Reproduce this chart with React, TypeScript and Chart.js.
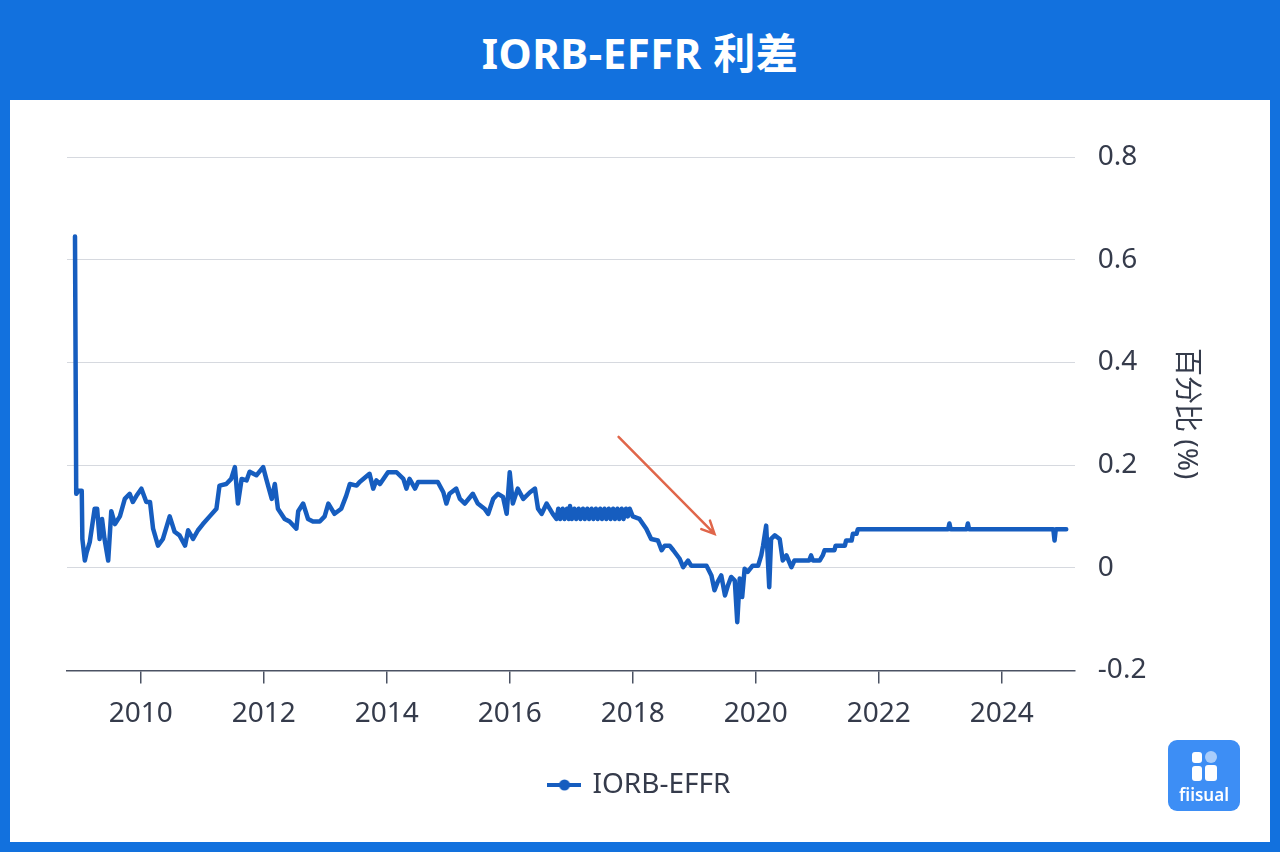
import React, { useEffect, useRef } from 'react';
import { Chart, registerables } from 'chart.js';

Chart.register(...registerables);

const chartTitle = 'IORB-EFFR 利差';
const seriesName = 'IORB-EFFR';
const yAxisTitle = '百分比 (%)';
const logoText = 'fiisual';

const years = [
  2008.93, 2008.95, 2008.99, 2009.04, 2009.05, 2009.09, 2009.12, 2009.17, 2009.25, 2009.29,
  2009.33, 2009.37, 2009.41, 2009.47, 2009.52, 2009.58, 2009.66, 2009.74, 2009.82, 2009.87,
  2009.93, 2010.01, 2010.09, 2010.15, 2010.20, 2010.28, 2010.36, 2010.47, 2010.55, 2010.63,
  2010.72, 2010.77, 2010.85, 2010.93, 2011.01, 2011.12, 2011.23, 2011.28, 2011.39, 2011.47,
  2011.53, 2011.58, 2011.64, 2011.72, 2011.77, 2011.88, 2011.99, 2012.04, 2012.13, 2012.18,
  2012.23, 2012.34, 2012.42, 2012.53, 2012.56, 2012.64, 2012.72, 2012.80, 2012.91, 2012.99,
  2013.05, 2013.15, 2013.26, 2013.34, 2013.40, 2013.51, 2013.56, 2013.72, 2013.78, 2013.83,
  2013.89, 2014.02, 2014.16, 2014.27, 2014.32, 2014.37, 2014.46, 2014.51, 2014.73, 2014.83,
  2014.92, 2014.97, 2015.02, 2015.13, 2015.19, 2015.27, 2015.40, 2015.48, 2015.59, 2015.65,
  2015.73, 2015.81, 2015.89, 2015.95, 2016.00, 2016.05, 2016.13, 2016.22, 2016.33, 2016.41,
  2016.46, 2016.52, 2016.60, 2016.70, 2016.76, 2016.79, 2016.82, 2016.86, 2016.89, 2016.93,
  2016.96, 2016.98, 2017.01, 2017.05, 2017.08, 2017.12, 2017.15, 2017.19, 2017.22, 2017.26,
  2017.29, 2017.33, 2017.36, 2017.40, 2017.43, 2017.47, 2017.50, 2017.54, 2017.57, 2017.61,
  2017.64, 2017.68, 2017.71, 2017.75, 2017.78, 2017.82, 2017.85, 2017.89, 2017.92, 2017.95,
  2018.00, 2018.11, 2018.22, 2018.30, 2018.41, 2018.47, 2018.52, 2018.60, 2018.66, 2018.76,
  2018.82, 2018.90, 2018.95, 2019.20, 2019.28, 2019.33, 2019.38, 2019.44, 2019.50, 2019.55,
  2019.60, 2019.66, 2019.70, 2019.74, 2019.78, 2019.82, 2019.87, 2019.95, 2020.04, 2020.09,
  2020.12, 2020.17, 2020.22, 2020.25, 2020.31, 2020.39, 2020.44, 2020.50, 2020.58, 2020.63,
  2020.87, 2020.90, 2020.93, 2021.04, 2021.09, 2021.12, 2021.28, 2021.30, 2021.45, 2021.47,
  2021.56, 2021.58, 2021.64, 2021.66, 2023.13, 2023.15, 2023.17, 2023.43, 2023.45, 2023.47,
  2024.84, 2024.86, 2024.88, 2025.05,
];

const spread = [
  0.645, 0.144, 0.15, 0.15, 0.056, 0.014, 0.03, 0.05, 0.115, 0.115,
  0.056, 0.095, 0.056, 0.014, 0.11, 0.085, 0.10, 0.134, 0.144, 0.128,
  0.14, 0.154, 0.128, 0.128, 0.076, 0.043, 0.056, 0.10, 0.07, 0.063,
  0.043, 0.073, 0.056, 0.073, 0.085, 0.10, 0.115, 0.16, 0.163, 0.173,
  0.196, 0.125, 0.173, 0.17, 0.187, 0.18, 0.196, 0.173, 0.134, 0.163,
  0.115, 0.095, 0.09, 0.076, 0.11, 0.125, 0.095, 0.09, 0.09, 0.10,
  0.125, 0.105, 0.115, 0.14, 0.163, 0.16, 0.167, 0.183, 0.154, 0.17,
  0.163, 0.186, 0.186, 0.173, 0.154, 0.173, 0.154, 0.167, 0.167, 0.167,
  0.147, 0.125, 0.144, 0.154, 0.134, 0.125, 0.144, 0.125, 0.115, 0.105,
  0.134, 0.144, 0.138, 0.105, 0.186, 0.125, 0.154, 0.134, 0.147, 0.154,
  0.115, 0.105, 0.125, 0.105, 0.095, 0.115, 0.095, 0.115, 0.095, 0.115,
  0.095, 0.12, 0.095, 0.115, 0.095, 0.115, 0.095, 0.115, 0.095, 0.115,
  0.095, 0.115, 0.095, 0.115, 0.095, 0.115, 0.095, 0.115, 0.095, 0.115,
  0.095, 0.115, 0.095, 0.115, 0.095, 0.115, 0.095, 0.115, 0.10, 0.115,
  0.10, 0.095, 0.076, 0.056, 0.053, 0.034, 0.043, 0.043, 0.034, 0.018,
  0.001, 0.014, 0.004, 0.004, -0.015, -0.044, -0.028, -0.015, -0.054, -0.034,
  -0.018, -0.025, -0.106, -0.021, -0.057, -0.002, -0.008, 0.004, 0.004, 0.024,
  0.043, 0.082, -0.038, 0.056, 0.063, 0.056, 0.014, 0.024, 0.001, 0.014,
  0.014, 0.024, 0.014, 0.014, 0.024, 0.034, 0.034, 0.043, 0.043, 0.053,
  0.053, 0.066, 0.066, 0.075, 0.075, 0.086, 0.075, 0.075, 0.086, 0.075,
  0.075, 0.053, 0.075, 0.075,
];

const tickYears = [2010, 2012, 2014, 2016, 2018, 2020, 2022, 2024];
const xMin = 2008.8;
const xMax = 2025.19;
const yMin = -0.2;
const yMax = 0.8;
const yStep = 0.2;

const arrowFrom = [2017.77, 0.255];
const arrowTo = [2019.33, 0.066];

const LINE_COLOR = '#165dbf';
const TEXT_COLOR = '#353b4b';
const FONT = "'Noto Sans', 'Noto Sans CJK SC', sans-serif";

function makeLegendIcon(): HTMLCanvasElement {
  const c = document.createElement('canvas');
  c.width = 34;
  c.height = 14;
  const g = c.getContext('2d')!;
  g.strokeStyle = LINE_COLOR;
  g.lineWidth = 4;
  g.beginPath();
  g.moveTo(0, 7);
  g.lineTo(34, 7);
  g.stroke();
  g.fillStyle = LINE_COLOR;
  g.beginPath();
  g.arc(17, 7, 5.5, 0, Math.PI * 2);
  g.fill();
  return c;
}

const arrowPlugin = {
  id: 'arrowAnnotation',
  afterDatasetsDraw(chart: any) {
    const { ctx, scales } = chart;
    const x1 = scales.x.getPixelForValue(arrowFrom[0]);
    const y1 = scales.y.getPixelForValue(arrowFrom[1]);
    const x2 = scales.x.getPixelForValue(arrowTo[0]);
    const y2 = scales.y.getPixelForValue(arrowTo[1]);
    const ang = Math.atan2(y2 - y1, x2 - x1);
    const head = 14;
    ctx.save();
    ctx.strokeStyle = '#e0664a';
    ctx.lineWidth = 2.5;
    ctx.lineCap = 'round';
    ctx.beginPath();
    ctx.moveTo(x1, y1);
    ctx.lineTo(x2, y2);
    ctx.moveTo(x2 - head * Math.cos(ang - 0.45), y2 - head * Math.sin(ang - 0.45));
    ctx.lineTo(x2, y2);
    ctx.lineTo(x2 - head * Math.cos(ang + 0.45), y2 - head * Math.sin(ang + 0.45));
    ctx.stroke();
    ctx.restore();
  },
};

function LineChart() {
  const ref = useRef<HTMLCanvasElement | null>(null);
  useEffect(() => {
    if (!ref.current) return;
    const icon = makeLegendIcon();
    const chart = new Chart(ref.current, {
      type: 'line',
      data: {
        datasets: [
          {
            label: seriesName,
            data: years.map((x, i) => ({ x, y: spread[i] })),
            borderColor: LINE_COLOR,
            backgroundColor: LINE_COLOR,
            borderWidth: 4.5,
            pointRadius: 0,
            tension: 0,
            borderJoinStyle: 'round',
            borderCapStyle: 'round',
          },
        ],
      },
      plugins: [arrowPlugin],
      options: {
        animation: false,
        responsive: false,
        layout: { padding: { left: 57, top: 57, right: 56, bottom: 33 } },
        plugins: {
          tooltip: { enabled: false },
          legend: {
            position: 'bottom',
            labels: {
              usePointStyle: true,
              pointStyleWidth: 28,
              color: TEXT_COLOR,
              font: { family: FONT, size: 28 },
              padding: 26,
              generateLabels: (c: any) => {
                const items = Chart.defaults.plugins.legend.labels.generateLabels(c);
                items.forEach((it: any) => {
                  it.pointStyle = icon;
                });
                return items;
              },
            },
          },
        },
        scales: {
          x: {
            type: 'linear',
            min: xMin,
            max: xMax,
            afterBuildTicks: (axis: any) => {
              axis.ticks = tickYears.map((v) => ({ value: v }));
            },
            grid: {
              display: true,
              drawOnChartArea: false,
              drawTicks: true,
              tickLength: 13,
              color: '#4b5263',
              lineWidth: 1.5,
            },
            border: { display: true, color: '#4b5263', width: 1.5 },
            ticks: {
              color: TEXT_COLOR,
              font: { family: FONT, size: 28 },
              padding: 14,
              maxRotation: 0,
              callback: (v: any) => String(v),
            },
          },
          y: {
            type: 'linear',
            position: 'right',
            min: yMin,
            max: yMax,
            grid: {
              color: '#d6d9df',
              lineWidth: 1,
              drawTicks: false,
            },
            border: { display: false },
            ticks: {
              stepSize: yStep,
              color: TEXT_COLOR,
              font: { family: FONT, size: 28 },
              padding: 23,
              callback: (v: any) => String(Number(Number(v).toFixed(1))),
            },
            title: {
              display: true,
              text: yAxisTitle,
              color: TEXT_COLOR,
              font: { family: FONT, size: 28 },
              padding: { top: 11, bottom: 0 },
            },
          },
        },
      },
    });
    return () => chart.destroy();
  }, []);
  return <canvas ref={ref} width={1260} height={742} style={{ display: 'block' }} />;
}

export default function App() {
  useEffect(() => {
    document.body.style.margin = '0';
  }, []);
  return (
    <div
      style={{
        position: 'fixed',
        left: 0,
        top: 0,
        width: 1280,
        height: 852,
        background: '#1271de',
        fontFamily: FONT,
      }}
    >
      <div
        style={{
          height: 100,
          display: 'flex',
          alignItems: 'center',
          justifyContent: 'center',
          color: '#fff',
          fontSize: 42,
          fontWeight: 700,
          letterSpacing: 0.5,
        }}
      >
        {chartTitle}
      </div>
      <div style={{ position: 'absolute', left: 10, top: 100, width: 1260, height: 742, background: '#fff' }}>
        <LineChart />
      </div>
      <div
        style={{
          position: 'absolute',
          left: 1168,
          top: 740,
          width: 72,
          height: 71,
          borderRadius: 9,
          background: '#3d8ef5',
          color: '#fff',
        }}
      >
        <div style={{ position: 'absolute', left: 24, top: 12, width: 10, height: 11, borderRadius: 3, background: '#fff' }} />
        <div style={{ position: 'absolute', left: 37, top: 11, width: 12, height: 12, borderRadius: 6, background: '#a9cdfb' }} />
        <div style={{ position: 'absolute', left: 24, top: 26, width: 10, height: 15, borderRadius: 3, background: '#fff' }} />
        <div style={{ position: 'absolute', left: 37, top: 25, width: 12, height: 16, borderRadius: 3, background: '#fff' }} />
        <div
          style={{
            position: 'absolute',
            left: 0,
            width: 72,
            top: 43,
            textAlign: 'center',
            fontSize: 17,
            fontWeight: 600,
          }}
        >
          {logoText}
        </div>
      </div>
    </div>
  );
}
